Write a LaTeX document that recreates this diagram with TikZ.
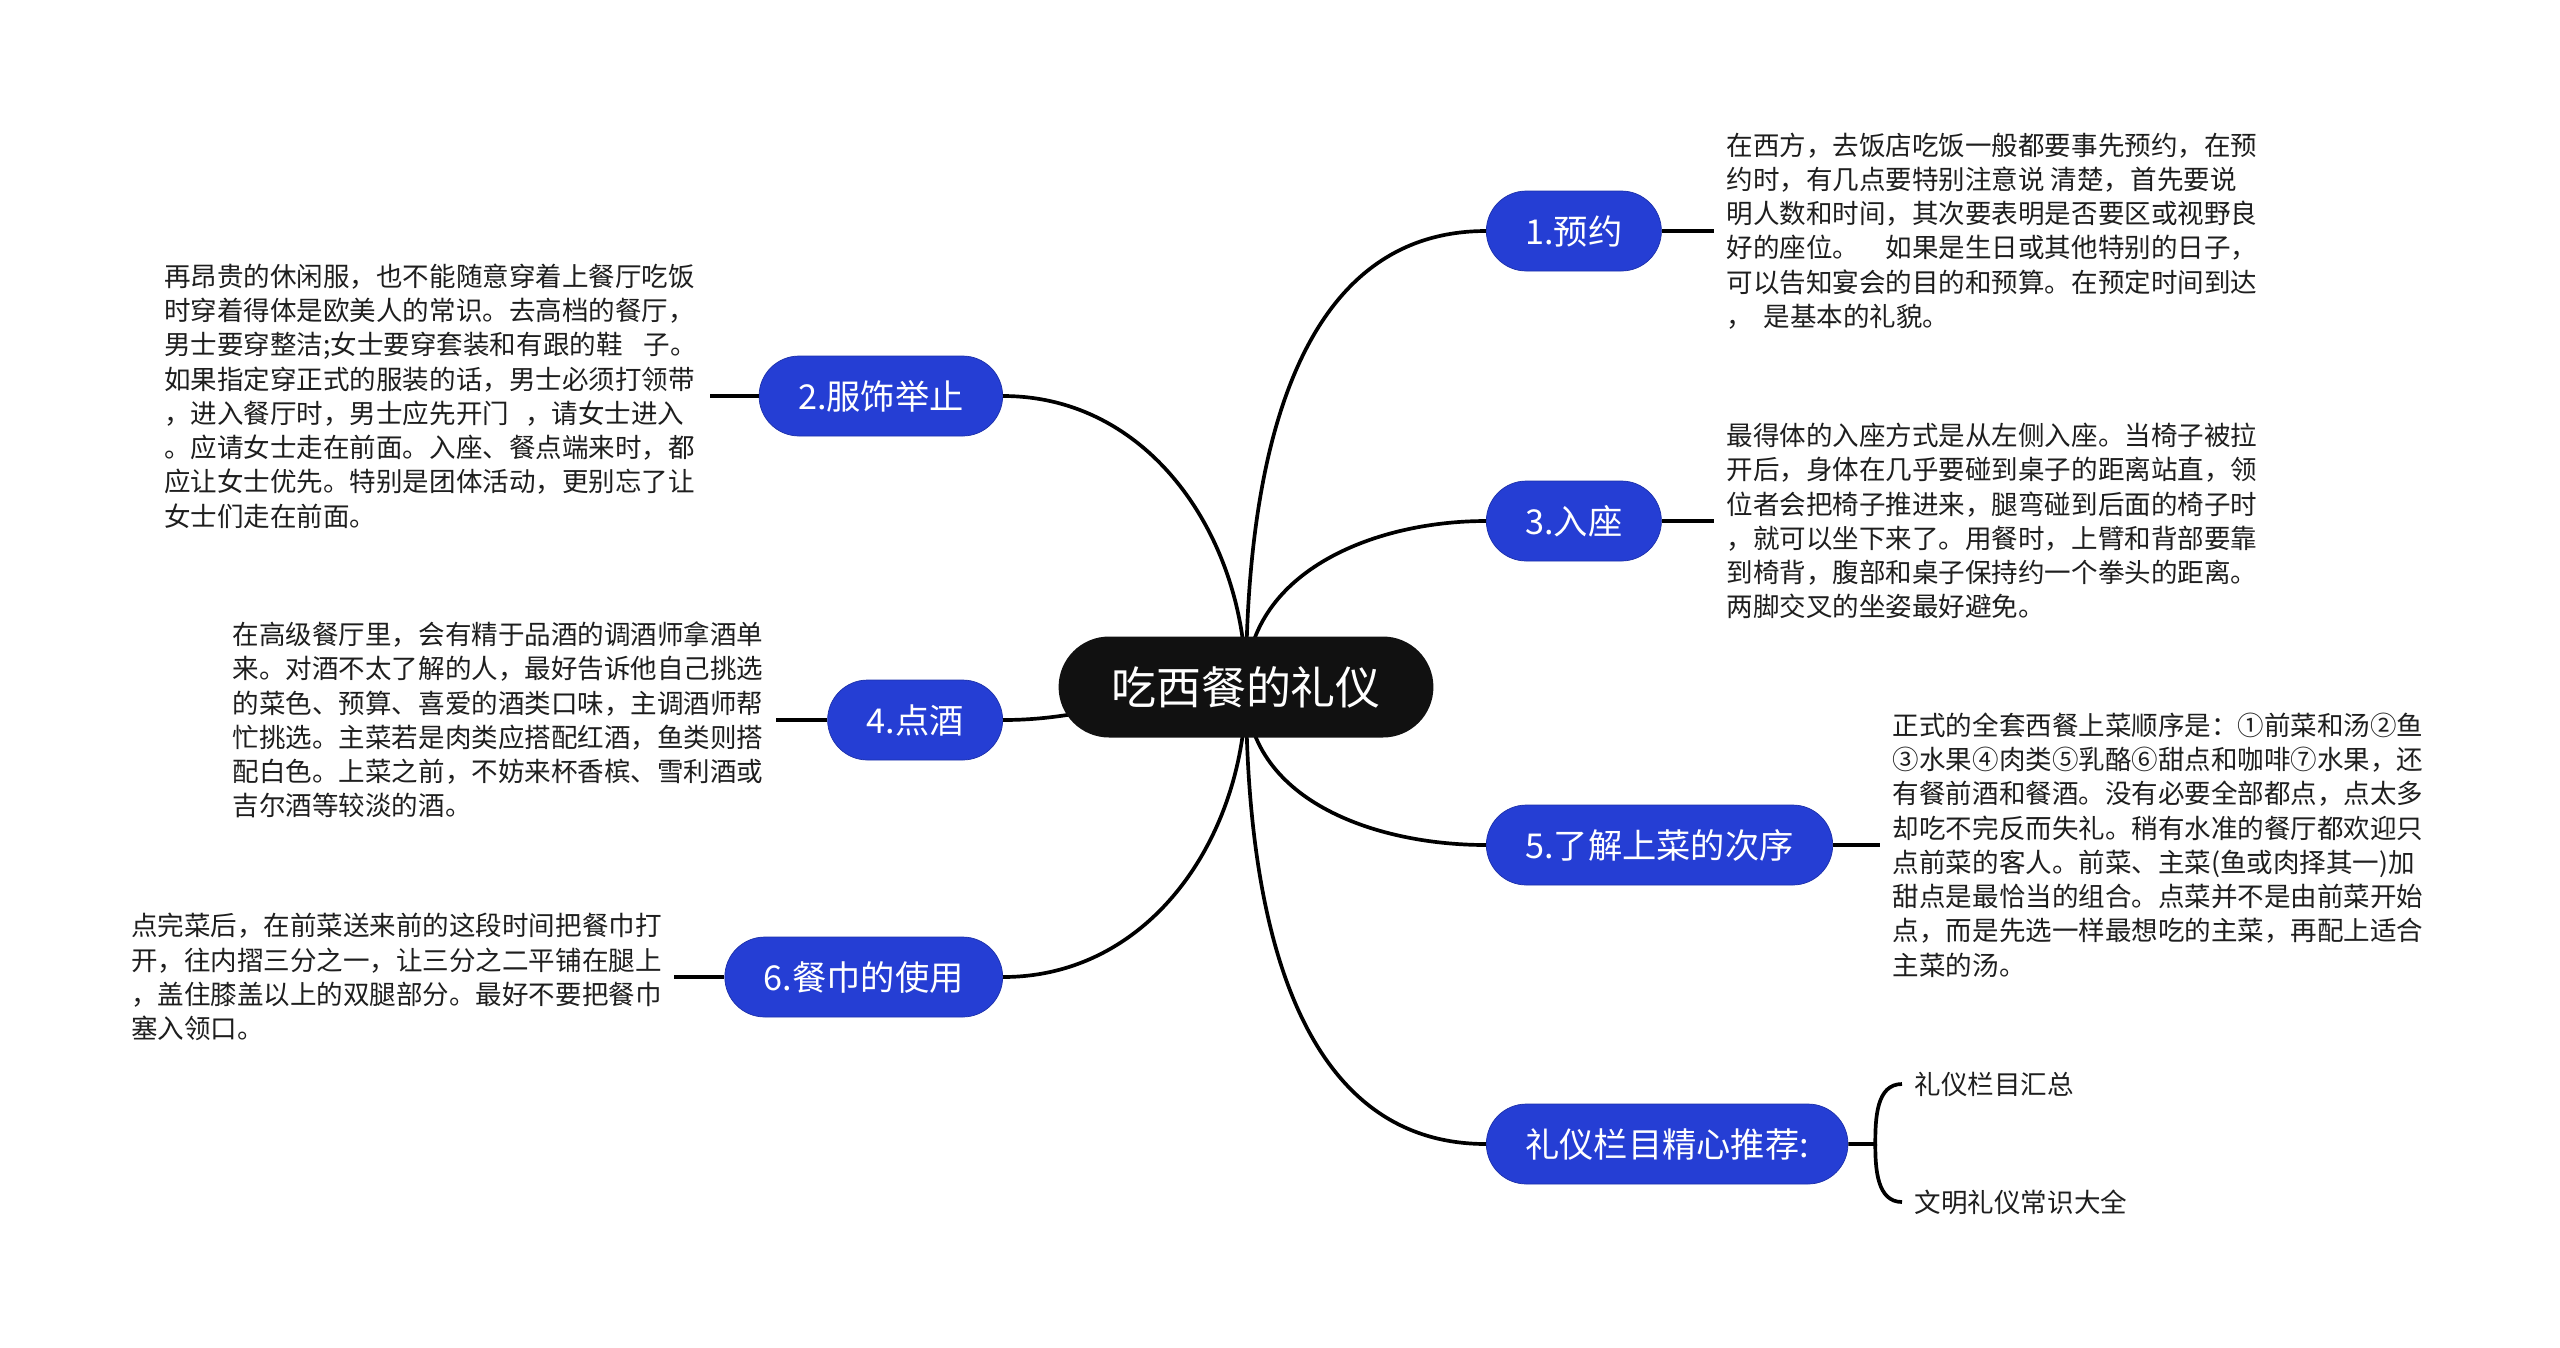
\documentclass[tikz,border=0pt]{standalone}
\usepackage{fontspec}
\setmainfont{Noto Sans CJK SC}
\usetikzlibrary{positioning,backgrounds}

\definecolor{topicblue}{RGB}{37,62,212}
\definecolor{topicline}{RGB}{28,48,170}
\definecolor{rootblack}{RGB}{17,17,17}
\definecolor{notegray}{RGB}{30,30,30}

\tikzset{
  root/.style={fill=rootblack, text=white, rounded corners=1.01cm, minimum height=2.02cm,
    inner xsep=1.05cm, font=\fontsize{25.6}{30}\selectfont},
  topic/.style={fill=topicblue, draw=topicline, line width=0.4pt, text=white, rounded corners=0.8cm,
    minimum height=1.6cm, inner xsep=0.78cm, font=\fontsize{19.5}{23}\selectfont},
  note/.style={align=left, inner xsep=0.25cm, inner ysep=0pt, text=notegray,
    font=\fontsize{15.1}{19.5}\selectfont},
  branch/.style={line width=2.1pt},
}

\begin{document}
\begin{tikzpicture}[x=0.02cm,y=0.02cm]
    \useasboundingbox (0,0) rectangle (2560,-1347);

    % nodo centrale
    \node[root] (root) at (1246,-687) {吃西餐的礼仪};

    % rami a destra
    \node[topic, anchor=west] (yuyue) at (1486,-231) {1.预约};
    \node[topic, anchor=west] (ruzuo) at (1486,-521) {3.入座};
    \node[topic, anchor=west] (cixu) at (1486,-845) {5.了解上菜的次序};
    \node[topic, anchor=west] (tuijian) at (1486,-1144) {礼仪栏目精心推荐:};

    % rami a sinistra
    \node[topic, anchor=east] (fushi) at (1003,-396) {2.服饰举止};
    \node[topic, anchor=east] (dianjiu) at (1003,-720) {4.点酒};
    \node[topic, anchor=east] (canjin) at (1003,-977) {6.餐巾的使用};

    % testi
    \node[note, right=1.04cm of yuyue] (tyuyue) {在西方，去饭店吃饭一般都要事先预约，在预\\
约时，有几点要特别注意说 清楚，首先要说\\
明人数和时间，其次要表明是否要区或视野良\\
好的座位。\hspace{1em}如果是生日或其他特别的日子，\\
可以告知宴会的目的和预算。在预定时间到达\\
，\hspace{0.4em}是基本的礼貌。};
    \node[note, right=1.04cm of ruzuo] (truzuo) {最得体的入座方式是从左侧入座。当椅子被拉\\
开后，身体在几乎要碰到桌子的距离站直，领\\
位者会把椅子推进来，腿弯碰到后面的椅子时\\
，就可以坐下来了。用餐时，上臂和背部要靠\\
到椅背，腹部和桌子保持约一个拳头的距离。\\
两脚交叉的坐姿最好避免。};
    \node[note, right=0.94cm of cixu] (tcixu) {正式的全套西餐上菜顺序是：①前菜和汤②鱼\\
③水果④肉类⑤乳酪⑥甜点和咖啡⑦水果，还\\
有餐前酒和餐酒。没有必要全部都点，点太多\\
却吃不完反而失礼。稍有水准的餐厅都欢迎只\\
点前菜的客人。前菜、主菜(鱼或肉择其一)加\\
甜点是最恰当的组合。点菜并不是由前菜开始\\
点，而是先选一样最想吃的主菜，再配上适合\\
主菜的汤。};
    \node[note, left=0.98cm of fushi] (tfushi) {再昂贵的休闲服，也不能随意穿着上餐厅吃饭\\
时穿着得体是欧美人的常识。去高档的餐厅，\\
男士要穿整洁;女士要穿套装和有跟的鞋\hspace{0.8em}子。\\
如果指定穿正式的服装的话，男士必须打领带\\
，进入餐厅时，男士应先开门\hspace{0.6em}，请女士进入\\
。应请女士走在前面。入座、餐点端来时，都\\
应让女士优先。特别是团体活动，更别忘了让\\
女士们走在前面。};
    \node[note, left=1.02cm of dianjiu] (tdianjiu) {在高级餐厅里，会有精于品酒的调酒师拿酒单\\
来。对酒不太了解的人，最好告诉他自己挑选\\
的菜色、预算、喜爱的酒类口味，主调酒师帮\\
忙挑选。主菜若是肉类应搭配红酒，鱼类则搭\\
配白色。上菜之前，不妨来杯香槟、雪利酒或\\
吉尔酒等较淡的酒。};
    \node[note, left=1cm of canjin] (tcanjin) {点完菜后，在前菜送来前的这段时间把餐巾打\\
开，往内摺三分之一，让三分之二平铺在腿上\\
，盖住膝盖以上的双腿部分。最好不要把餐巾\\
塞入领口。};

    % sottorami
    \path (tuijian.east) ++(27,0) coordinate (fork);
    \node[note, anchor=west] (huizong) at (1902,-1084) {礼仪栏目汇总};
    \node[note, anchor=west] (daquan) at (1902,-1202) {文明礼仪常识大全};

    \draw[branch] (yuyue.east) -- (tyuyue.west);
    \draw[branch] (ruzuo.east) -- (truzuo.west);
    \draw[branch] (cixu.east) -- (tcixu.west);
    \draw[branch] (fushi.west) -- (tfushi.east);
    \draw[branch] (dianjiu.west) -- (tdianjiu.east);
    \draw[branch] (canjin.west) -- (tcanjin.east);
    \draw[branch] (tuijian.east) -- (fork) to[out=90,in=180] (huizong.west);
    \draw[branch] (fork) to[out=-90,in=180] (daquan.west);

    % collegamenti dal centro
    \begin{scope}[on background layer]
        \draw[branch] (root.center) to[out=90,in=180] (yuyue.west);
        \draw[branch] (root.center) to[out=90,in=180] (ruzuo.west);
        \draw[branch] (root.center) to[out=-90,in=180] (cixu.west);
        \draw[branch] (root.center) to[out=-90,in=180] (tuijian.west);
        \draw[branch] (root.center) to[out=90,in=0] (fushi.east);
        \draw[branch] (root.center) to[out=180,in=0] (dianjiu.east);
        \draw[branch] (root.center) to[out=-90,in=0] (canjin.east);
    \end{scope}
\end{tikzpicture}
\end{document}
